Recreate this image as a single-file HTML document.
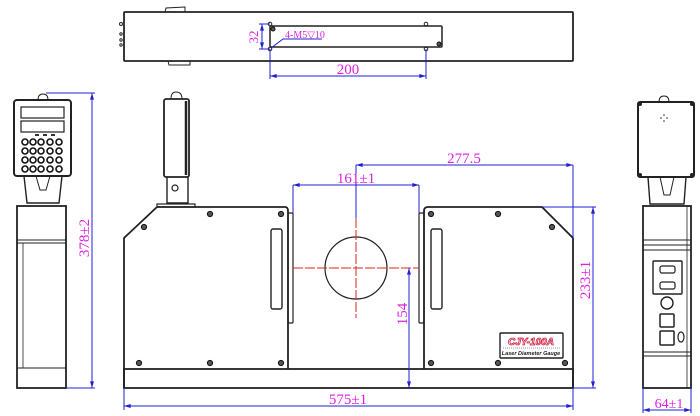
<!DOCTYPE html>
<html><head><meta charset="utf-8"><style>
html,body{margin:0;padding:0;background:#fff;}
svg{display:block}
text{font-family:"Liberation Serif",serif;fill:#e020e0}
</style></head><body>
<svg width="700" height="416" viewBox="0 0 700 416" xmlns="http://www.w3.org/2000/svg">
<defs>
<marker id="a" viewBox="0 0 10 6" refX="10" refY="3" markerWidth="8" markerHeight="4" orient="auto-start-reverse"><path d="M0,0L10,3L0,6z" fill="#2020d0"/></marker>
</defs>
<g fill="none" stroke="#222" stroke-width="1.8">
<!-- TOP VIEW -->
<rect x="124" y="12" width="449" height="49" rx="1"/>
<path d="M165,12 L166,8 L185,7 L185,12" stroke-width="1"/>
<path d="M168,61 L169,65 L190,65 L190,61" stroke-width="1"/>
<rect x="270" y="26" width="172" height="21" rx="1" stroke-width="1.5"/>
<g stroke-width="1"><circle cx="270" cy="24" r="1.8"/><circle cx="426" cy="24" r="1.8"/><circle cx="270" cy="49" r="1.8"/><circle cx="426" cy="49" r="1.8"/>
<circle cx="121" cy="24" r="1.5"/><circle cx="121" cy="34" r="1.2"/><circle cx="121" cy="40" r="1.2"/><circle cx="121" cy="45" r="1.2"/></g>

<!-- FRONT VIEW -->
<path d="M124,388 L124,238 L157,207 L285,207 Q288,207 288,211 L288,369"/>
<path d="M424,369 L424,211 Q424,207 428,207 L542,207 L573,238 L573,388"/>
<rect x="124" y="369" width="449" height="19"/>
<rect x="288" y="213" width="5" height="110" rx="1" stroke-width="1.2"/>
<rect x="419" y="213" width="5" height="110" rx="1" stroke-width="1.2"/>
<rect x="271" y="229" width="11" height="80" rx="2" stroke-width="1.4"/>
<rect x="431" y="229" width="11" height="80" rx="2" stroke-width="1.4"/>
<rect x="164" y="99" width="25" height="78" rx="2"/>
<path d="M171,99 Q171,92 176,92 Q182,92 182,99" stroke-width="1"/>
<line x1="186" y1="101" x2="186" y2="175" stroke-width="2.5"/>
<path d="M167,177 L167,203 L188,203 L188,177" stroke-width="1.4"/>
<circle cx="175" cy="188" r="3" stroke-width="1.2"/>
<rect x="157" y="204" width="38" height="3" stroke-width="1.2"/>
<circle cx="356" cy="268" r="31" stroke-width="1.2"/>
<rect x="500" y="333" width="63" height="25" rx="1" stroke-width="1.4"/>

<!-- LEFT VIEW -->
<rect x="14" y="100" width="57" height="76" rx="3" stroke-width="2"/>
<path d="M38,100 Q38,94 43,94 Q48,94 48,100" stroke-width="1"/>
<rect x="21" y="107" width="43" height="11" stroke-width="1.2"/>
<rect x="21" y="121" width="43" height="11" stroke-width="1.2"/>
<path d="M24,176 L27,203 L59,203 L62,176" stroke-width="1.4"/>
<path d="M36,176 L40,190 L46,190 L50,176" stroke-width="1"/>
<rect x="17" y="206" width="49" height="182"/>
<line x1="17" y1="240" x2="66" y2="240" stroke-width="1"/><line x1="17" y1="243" x2="66" y2="243" stroke-width="1"/>
<line x1="17" y1="368" x2="66" y2="368" stroke-width="1"/>
<line x1="23" y1="243" x2="23" y2="368" stroke-width="0.8"/>

<!-- RIGHT VIEW -->
<rect x="638" y="102" width="56" height="75" rx="2" stroke-width="2"/>
<path d="M659,102 Q659,96 664,96 Q669,96 669,102" stroke-width="1"/>
<path d="M648,177 L650,204 L684,204 L686,177" stroke-width="1.4"/>
<path d="M660,177 L664,195 L670,195 L674,177" stroke-width="1"/>
<rect x="643" y="206" width="48" height="182"/>
<line x1="643" y1="240" x2="691" y2="240" stroke-width="1"/><line x1="643" y1="245" x2="691" y2="245" stroke-width="1"/>
<line x1="643" y1="250" x2="691" y2="250" stroke-width="1"/><line x1="643" y1="352" x2="691" y2="352" stroke-width="1"/><line x1="643" y1="356" x2="691" y2="356" stroke-width="1"/>
<line x1="687" y1="206" x2="687" y2="388" stroke-width="0.8"/>
<rect x="653" y="261" width="29" height="33" rx="1" stroke-width="1.4"/>
<rect x="660" y="266" width="15" height="7" rx="2" stroke-width="1.2"/>
<rect x="660" y="282" width="15" height="7" rx="2" stroke-width="1.2"/>
<circle cx="667" cy="303" r="6" stroke-width="1.4"/>
<rect x="660" y="314" width="14" height="13" rx="1" stroke-width="1.5"/>
<rect x="660" y="331" width="14" height="14" rx="1" stroke-width="1.5"/>
<ellipse cx="681" cy="337" rx="3" ry="5" stroke-width="1.2"/>
</g>
<!-- screws -->
<g fill="#555" stroke="#111" stroke-width="1">
<circle cx="210" cy="214" r="2.6"/><circle cx="281" cy="214" r="2.6"/><circle cx="144" cy="227" r="2.6"/>
<circle cx="139" cy="363" r="2.6"/><circle cx="210" cy="363" r="2.6"/><circle cx="281" cy="363" r="2.6"/>
<circle cx="431" cy="214" r="2.6"/><circle cx="498" cy="214" r="2.6"/><circle cx="552" cy="227" r="2.6"/>
<circle cx="431" cy="363" r="2.6"/><circle cx="498" cy="363" r="2.6"/><circle cx="565" cy="363" r="2.6"/>
<circle cx="273" cy="29" r="2"/><circle cx="439" cy="44" r="2"/>
</g>
<g fill="#222">
<circle cx="640" cy="104" r="2"/><circle cx="692" cy="104" r="2"/><circle cx="640" cy="175" r="2"/><circle cx="692" cy="175" r="2"/>
<circle cx="664" cy="115" r="0.8"/><circle cx="664" cy="121" r="0.8"/><circle cx="661" cy="118" r="0.8"/><circle cx="667" cy="118" r="0.8"/>
</g>
<!-- keypad -->
<g fill="none" stroke="#111" stroke-width="1.6">
<circle cx="25" cy="142" r="3"/><circle cx="33" cy="142" r="3"/><circle cx="41" cy="142" r="3"/><circle cx="50" cy="142" r="3"/><circle cx="59" cy="142" r="3"/>
<circle cx="25" cy="151" r="3"/><circle cx="33" cy="151" r="3"/><circle cx="41" cy="151" r="3"/><circle cx="50" cy="151" r="3"/><circle cx="59" cy="151" r="3"/>
<circle cx="25" cy="160" r="3"/><circle cx="33" cy="160" r="3"/><circle cx="41" cy="160" r="3"/><circle cx="50" cy="160" r="3"/><circle cx="59" cy="160" r="3"/>
<circle cx="25" cy="169" r="3"/><circle cx="33" cy="169" r="3"/><circle cx="41" cy="169" r="3"/><circle cx="50" cy="169" r="3"/><circle cx="59" cy="169" r="3"/>
</g>
<g fill="#333"><rect x="35" y="134" width="4" height="2"/><rect x="43" y="134" width="4" height="2"/><rect x="51" y="134" width="4" height="2"/></g>

<!-- red center lines -->
<g stroke="#e02020" stroke-width="1" stroke-dasharray="10,2">
<line x1="293" y1="268" x2="419" y2="268"/><line x1="356" y1="218" x2="356" y2="318"/>
</g>

<!-- dimensions -->
<g stroke="#2020d0" stroke-width="1" fill="none">
<line x1="293" y1="185" x2="419" y2="185" marker-start="url(#a)" marker-end="url(#a)"/>
<line x1="293" y1="185" x2="293" y2="213"/><line x1="419" y1="185" x2="419" y2="213"/>
<line x1="356" y1="165" x2="573" y2="165" marker-start="url(#a)" marker-end="url(#a)"/>
<line x1="356" y1="165" x2="356" y2="218"/><line x1="573" y1="165" x2="573" y2="238"/>
<line x1="593" y1="207" x2="593" y2="388" marker-start="url(#a)" marker-end="url(#a)"/>
<line x1="542" y1="207" x2="596" y2="207"/><line x1="573" y1="388" x2="596" y2="388"/>
<line x1="409" y1="268" x2="409" y2="388" marker-start="url(#a)" marker-end="url(#a)"/>
<line x1="124" y1="406" x2="573" y2="406" marker-start="url(#a)" marker-end="url(#a)"/>
<line x1="124" y1="388" x2="124" y2="410"/><line x1="573" y1="388" x2="573" y2="410"/>
<line x1="92" y1="93" x2="92" y2="388" marker-start="url(#a)" marker-end="url(#a)"/>
<line x1="46" y1="93" x2="95" y2="93"/><line x1="66" y1="388" x2="95" y2="388"/>
<line x1="643" y1="410" x2="691" y2="410" marker-start="url(#a)" marker-end="url(#a)"/>
<line x1="643" y1="388" x2="643" y2="413"/><line x1="691" y1="388" x2="691" y2="413"/>
<line x1="270" y1="76" x2="426" y2="76" marker-start="url(#a)" marker-end="url(#a)"/>
<line x1="270" y1="49" x2="270" y2="79"/><line x1="426" y1="49" x2="426" y2="79"/>
<line x1="262" y1="24" x2="262" y2="49" marker-start="url(#a)" marker-end="url(#a)"/>
<line x1="259" y1="24" x2="270" y2="24"/><line x1="259" y1="49" x2="270" y2="49"/>
<path d="M271,48 L283,39 L322,39"/>
</g>

<!-- labels -->
<text x="356" y="183" font-size="15" text-anchor="middle">161±1</text>
<text x="464" y="163" font-size="15" text-anchor="middle">277.5</text>
<text x="348" y="404" font-size="15" text-anchor="middle">575±1</text>
<text x="348" y="74" font-size="15" text-anchor="middle">200</text>
<text x="669" y="408" font-size="14" text-anchor="middle">64±1</text>
<text font-size="15" text-anchor="middle" transform="translate(590,280) rotate(-90)">233±1</text>
<text font-size="15" text-anchor="middle" transform="translate(407,314) rotate(-90)">154</text>
<text font-size="15" text-anchor="middle" transform="translate(89,238) rotate(-90)">378±2</text>
<text font-size="13" text-anchor="middle" transform="translate(258,37) rotate(-90)">32</text>
<text x="285" y="38" font-size="10">4-M5▽10</text>
<text x="531" y="345" font-size="10" font-weight="bold" font-style="italic" text-anchor="middle" style="fill:#fff;stroke:#d02040;stroke-width:0.8;font-family:'Liberation Sans',sans-serif">CJY-100A</text>
<line x1="503" y1="348" x2="560" y2="348" stroke="#333" stroke-width="0.6" stroke-dasharray="1,1"/>
<text x="531" y="355" font-size="5.5" font-weight="bold" font-style="italic" text-anchor="middle" style="fill:#222;font-family:'Liberation Sans',sans-serif">Laser Diameter Gauge</text>
</svg>
</body></html>
